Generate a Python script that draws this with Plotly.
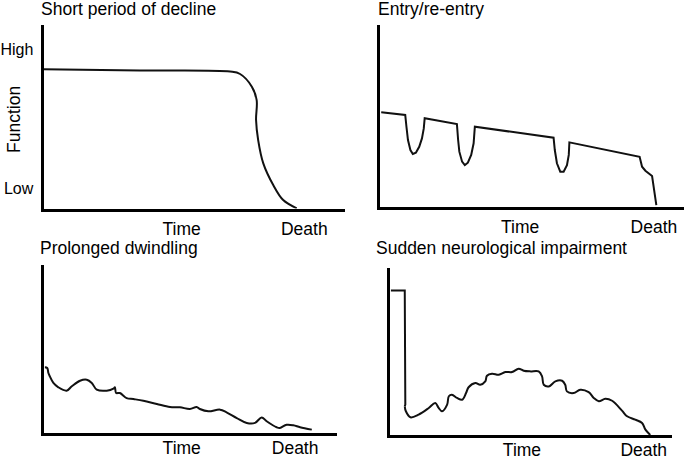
import plotly.graph_objects as go

W, H = 685, 456
FONT = "Liberation Sans, Arial, sans-serif"
FS = 17.5

# Trajectory data, time and function both on a 0-100 scale
decline_time = [0, 32.0, 61.9, 65.2, 69.1, 70.7, 70.5, 71.2, 72.9, 76.2, 79.5, 84.0]
decline_function = [75.9, 75.2, 74.6, 73.3, 66.4, 59.1, 48.2, 37.3, 24.6, 12.8, 4.6, 0.1]

entry_time = [0.4, 8.3, 8.7, 9.2, 10.0, 10.8, 11.8, 12.9, 13.8, 14.4, 14.7,
              25.3, 25.7, 26.1, 27.0, 27.9, 28.9, 30.0, 30.8, 31.2,
              57.1, 57.5, 58.2, 59.3, 60.4, 61.5, 62.1, 62.3,
              85.4, 86.2, 87.3, 89.5, 90.9]
entry_function = [52.0, 50.5, 44.0, 36.7, 31.2, 29.0, 29.7, 33.0, 37.6, 43.1, 48.7,
                  45.5, 36.7, 30.3, 24.8, 22.9, 24.2, 28.5, 34.9, 44.0,
                  38.0, 31.2, 23.9, 19.3, 19.3, 22.9, 28.5, 35.4,
                  27.5, 22.0, 19.8, 16.9, 0.9]

dwindle_time = [0.3, 1.1, 1.5, 2.0, 3.2, 4.9, 7.7, 9.5, 12.3, 14.6, 16.3, 18.0,
                21.4, 23.7, 24.2, 24.6, 25.9, 28.2, 30.5, 33.9, 38.5, 43.0,
                46.4, 49.8, 52.1, 53.2, 56.1, 60.1, 62.3, 65.8, 69.2, 72.0,
                74.3, 76.0, 79.4, 80.5, 82.8, 85.1, 87.4, 91.4]
dwindle_function = [39.1, 38.7, 35.7, 33.7, 29.8, 27.2, 25.2, 27.8, 31.1, 31.7, 29.8, 25.8,
                    25.2, 26.4, 27.2, 23.8, 23.8, 20.8, 20.2, 19.2, 17.3, 15.5,
                    15.3, 14.3, 15.5, 14.3, 12.9, 13.9, 12.3, 8.9, 6.0, 6.0,
                    9.3, 7.0, 3.4, 3.0, 4.9, 4.6, 3.4, 2.0]

event_time = [0.5, 5.4, 5.6, 5.4]
event_function = [86.6, 86.6, 18.2, 17.2]
recovery_time = [5.4, 5.8, 7.4, 10.3, 13.9, 16.2, 17.4, 18.6, 20.4, 21.0, 22.1, 23.9,
                 25.7, 27.1, 28.0, 30.4, 32.1, 33.9, 34.5, 36.3, 38.7, 41.0, 43.4,
                 45.7, 47.5, 49.8, 52.8, 54.0, 54.6, 56.4, 58.7, 61.1, 62.2, 62.8,
                 65.2, 67.5, 70.5, 72.3, 74.1, 76.4, 78.8, 82.3, 84.1, 87.0, 89.4,
                 90.6, 92.3]
recovery_function = [17.2, 14.2, 10.6, 12.2, 16.2, 19.2, 16.2, 14.2, 18.2, 23.2, 24.1, 22.2,
                     21.1, 25.1, 28.6, 31.1, 30.1, 32.1, 35.5, 36.7, 36.1, 37.7, 37.7,
                     39.7, 38.5, 38.1, 38.1, 35.1, 30.1, 29.1, 32.1, 32.5, 30.1, 26.1,
                     25.1, 27.1, 25.7, 22.2, 20.2, 21.7, 20.5, 14.6, 11.2, 9.2, 7.2,
                     3.2, 0]

titles = ["Short period of decline", "Entry/re-entry",
          "Prolonged dwindling", "Sudden neurological impairment"]
x_ticktext = ["Time", "Death"]
x_tickvals = [[45.8, 86.5], [46.1, 90.1], [47.0, 85.7], [46.9, 90.0]]
y_ticktext = ["High", "Low"]
y_tickvals = [86.9, 11.0]

# panel boxes in pixels: left, right, top, bottom
boxes = [(43.5, 345, 25, 208.5), (380, 684, 25, 206.7),
         (44, 337, 265, 433), (389.5, 672, 268, 435)]
title_pos = [(39, 9), (376, 9), (38, 248), (374, 248)]

fig = go.Figure()
line = dict(color="#111111", width=2)

traces = [
    (decline_time, decline_function, 1, "spline"),
    (entry_time, entry_function, 2, "linear"),
    (dwindle_time, dwindle_function, 3, "spline"),
    (event_time, event_function, 4, "linear"),
    (recovery_time, recovery_function, 4, "spline"),
]
for xs, ys, n, shape in traces:
    sfx = "" if n == 1 else str(n)
    fig.add_trace(go.Scatter(x=xs, y=ys, mode="lines", line=dict(line, shape=shape),
                             xaxis="x" + sfx, yaxis="y" + sfx, showlegend=False,
                             hoverinfo="skip"))

layout = {}
for i, (l, r, t, b) in enumerate(boxes):
    sfx = "" if i == 0 else str(i + 1)
    layout["xaxis" + sfx] = dict(
        domain=[l / W, r / W], range=[0, 100], anchor="y" + sfx, automargin=False,
        showline=True, linecolor="black", linewidth=3, showgrid=False,
        zeroline=False, ticks="", tickvals=x_tickvals[i], ticktext=x_ticktext,
        tickfont=dict(size=FS, color="black", family=FONT),
        ticklabelstandoff=2 if i < 2 else -3, fixedrange=True)
    layout["yaxis" + sfx] = dict(
        domain=[1 - b / H, 1 - t / H], range=[0, 100], anchor="x" + sfx, automargin=False,
        showline=True, linecolor="black", linewidth=3, showgrid=False,
        zeroline=False, ticks="",
        tickvals=y_tickvals if i == 0 else [],
        ticktext=y_ticktext if i == 0 else [],
        tickfont=dict(size=16, color="black", family=FONT),
        ticklabelstandoff=4, fixedrange=True)

annotations = []
for text, (px, py) in zip(titles, title_pos):
    annotations.append(dict(text=text, x=px / W, y=1 - py / H, xref="paper", yref="paper",
                            xanchor="left", yanchor="middle", showarrow=False,
                            font=dict(size=FS, color="black", family=FONT)))
annotations.append(dict(text="Function", x=14 / W, y=1 - 120 / H, xref="paper", yref="paper",
                        textangle=-90, xanchor="center", yanchor="middle", showarrow=False,
                        font=dict(size=FS, color="black", family=FONT)))

fig.update_layout(width=W, height=H, margin=dict(l=0, r=0, t=0, b=0),
                  paper_bgcolor="white", plot_bgcolor="white",
                  annotations=annotations, **layout)

# page body has a default margin, drop it so the figure sits at the corner
fig.write_html("out.html", config={"displayModeBar": False},
               post_script="document.body.style.margin='0';")
